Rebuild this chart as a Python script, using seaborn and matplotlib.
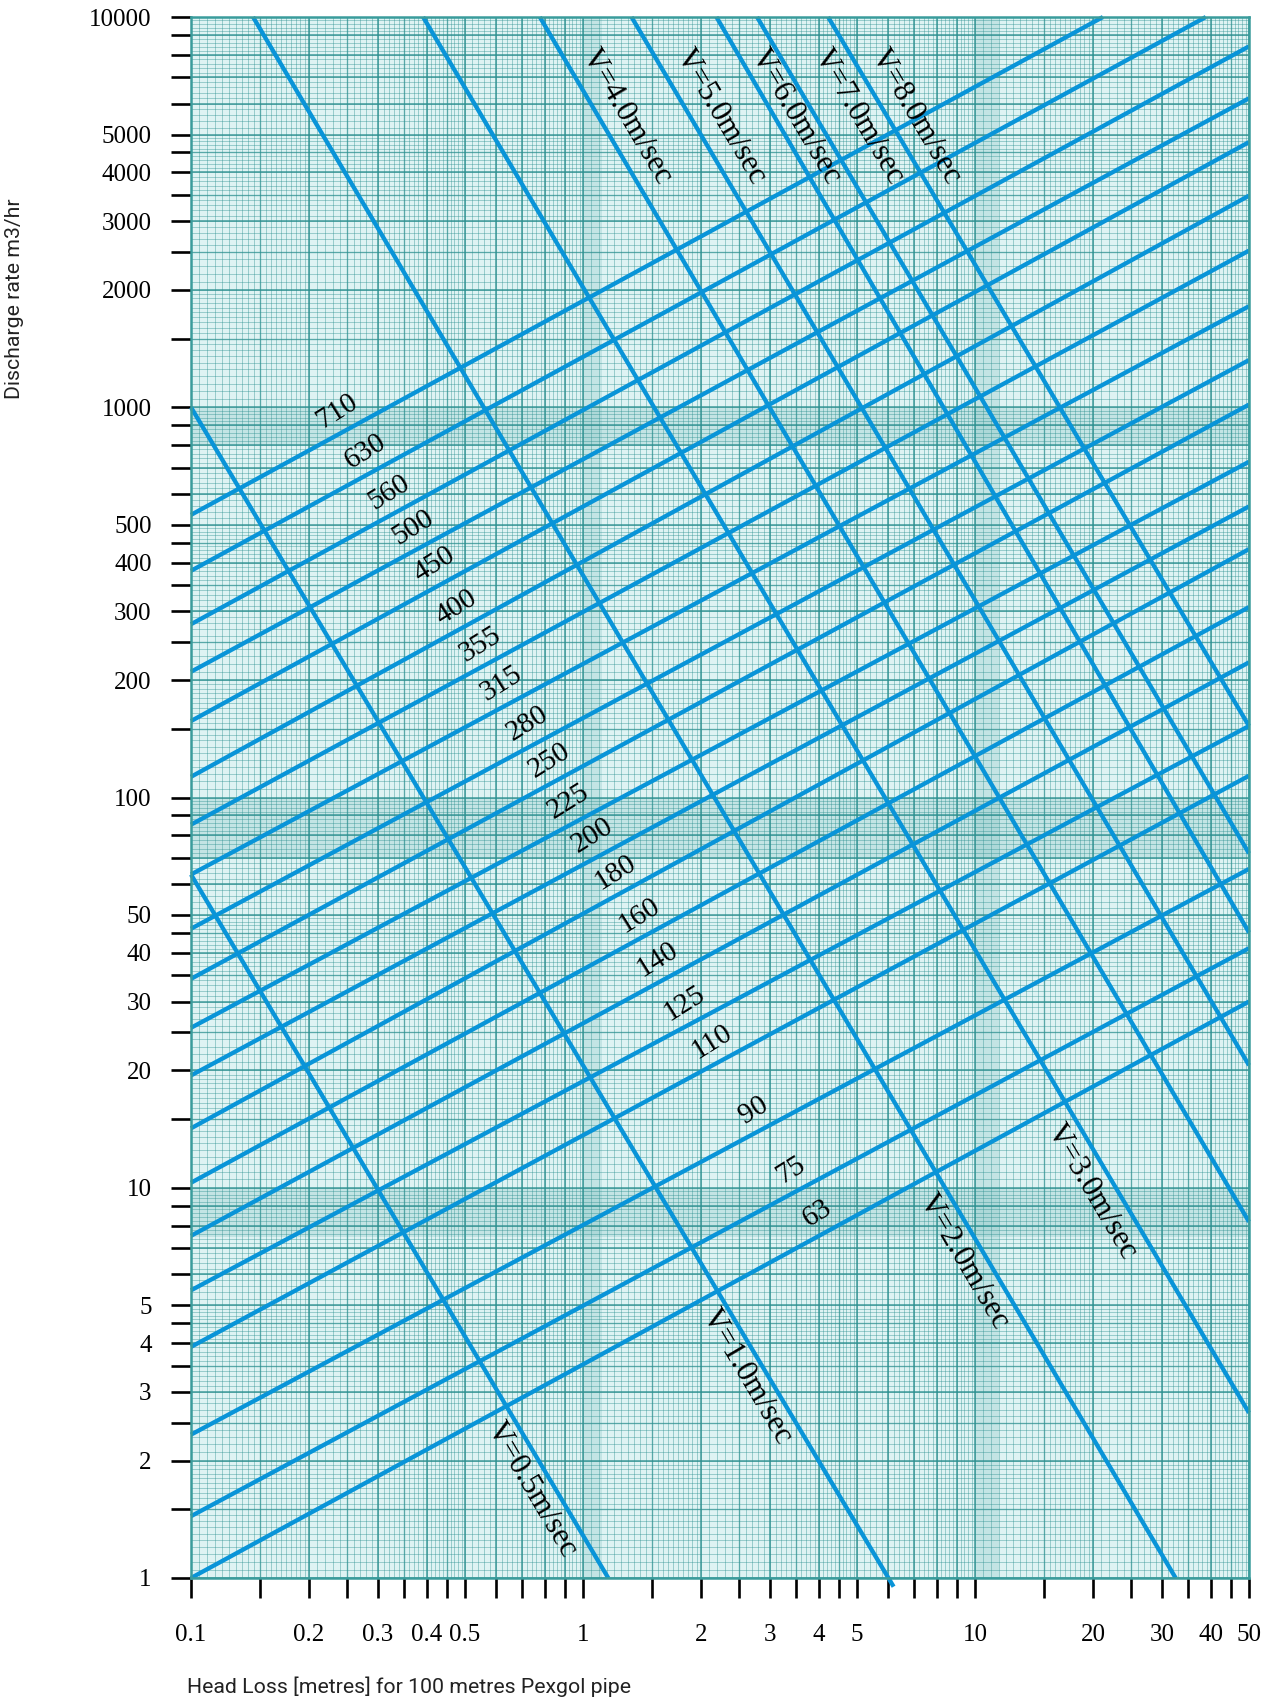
import numpy as np
import pandas as pd
import matplotlib
matplotlib.use('Agg')
import matplotlib.pyplot as plt
import seaborn as sns
from matplotlib.ticker import FixedLocator, FixedFormatter, NullFormatter

# pipe lines (outer diameter, mm): discharge at 0.1 m head loss and at the far end
pipe_sizes = [63, 75, 90, 110, 125, 140, 160, 180, 200, 225,
              250, 280, 315, 355, 400, 450, 500, 560, 630, 710]
pipe_q_start = [1.0, 1.44, 2.33, 3.91, 5.46, 7.53, 10.3, 14.2, 19.4, 25.7,
                34.3, 46.1, 63.5, 85.2, 113, 157, 210, 278, 381, 530]
pipe_x_end = [50] * 18 + [38.8, 21.2]
pipe_q_end = [30.0, 41.1, 65.6, 113.7, 152.5, 222, 307.6, 433, 557, 725,
              1016, 1321, 1815, 2520, 3485, 4780, 6190, 8410, 10000, 10000]
pipe_label_x = [3.95, 3.39, 2.73, 2.13, 1.81, 1.55, 1.39, 1.21, 1.06, 0.921,
                0.824, 0.724, 0.621, 0.546, 0.474, 0.417, 0.368, 0.320, 0.279, 0.235]

# velocity lines
vel_labels = ['V=0.5m/sec', 'V=1.0m/sec', 'V=2.0m/sec', 'V=3.0m/sec', 'V=4.0m/sec',
              'V=5.0m/sec', 'V=6.0m/sec', 'V=7.0m/sec', 'V=8.0m/sec']
vel_x_start = [0.1, 0.1, 0.144, 0.391, 0.776, 1.33, 2.19, 2.78, 4.22]
vel_q_start = [63.5, 1000, 10000, 10000, 10000, 10000, 10000, 10000, 10000]
vel_x_end = [1.16, 6.2, 32.5, 50, 50, 50, 50, 50, 50]
vel_q_end = [1, 0.95, 1, 2.65, 8.18, 20.6, 45.1, 71.9, 152.5]
vel_label_x = [0.741, 2.62, 9.37, 19.8, 1.29, 2.24, 3.49, 5.06, 7.06]
vel_label_q = [1.68, 3.27, 6.45, 9.76, 5540, 5540, 5540, 5540, 5540]

x_labelled = [0.1, 0.2, 0.3, 0.4, 0.5, 1, 2, 3, 4, 5, 10, 20, 30, 40, 50]
y_labelled = [1, 2, 3, 4, 5, 10, 20, 30, 40, 50, 100, 200, 300, 400, 500,
              1000, 2000, 3000, 4000, 5000, 10000]
minor_steps = [1.5, 2.5, 3.5, 4.5, 6, 7, 8, 9]

blue = '#0994d8'
teal = '#2b8f8f'
serif = ['Liberation Serif', 'DejaVu Serif']

sns.set_style('white')
plt.rcParams['font.family'] = serif
plt.rcParams['text.color'] = 'black'
plt.rcParams['xtick.color'] = 'black'
plt.rcParams['ytick.color'] = 'black'

rows = []
for s, ql, xr, qr in zip(pipe_sizes, pipe_q_start, pipe_x_end, pipe_q_end):
    rows.append({'line': f'D{s}', 'x': 0.1, 'Q': ql})
    rows.append({'line': f'D{s}', 'x': xr, 'Q': qr})
for v, xs, qs, xe, qe in zip(vel_labels, vel_x_start, vel_q_start, vel_x_end, vel_q_end):
    rows.append({'line': v, 'x': xs, 'Q': qs})
    rows.append({'line': v, 'x': xe, 'Q': qe})
df = pd.DataFrame(rows)

fig = plt.figure(figsize=(12.75, 17.03), dpi=100)
ax = fig.add_axes([0.1498, 0.0734, 0.8298, 0.9166])
ax.set_xscale('log')
ax.set_yscale('log')
ax.set_xlim(0.1, 50)
ax.set_ylim(1, 10000)
ax.set_facecolor('#def3f3')

# graph-paper background
def paper(lo_exp, hi_exp, top):
    fine, mid, major = [], [], []
    for e in range(lo_exp, hi_exp):
        d = 10.0 ** e
        sub = np.r_[np.arange(1, 2, 0.05), np.arange(2, 5, 0.1), np.arange(5, 10, 0.2)]
        fine += list(d * sub)
        mid += list(d * np.array([1.5, 2.5, 3.5, 4.5]))
        major += list(d * np.arange(1, 10))
    keep = lambda a: [v for v in a if v <= top * 1.0001]
    return keep(fine), keep(mid), keep(major)

xf, xm, xM = paper(-1, 2, 50)
yf, ym, yM = paper(0, 4, 10000)
ax.vlines(xf, 1, 10000, color=teal, lw=0.7, alpha=0.4, zorder=0.5)
ax.hlines(yf, 0.1, 50, color=teal, lw=0.7, alpha=0.4, zorder=0.5)
ax.vlines(xm, 1, 10000, color=teal, lw=1.0, alpha=0.58, zorder=0.6)
ax.hlines(ym, 0.1, 50, color=teal, lw=1.0, alpha=0.58, zorder=0.6)
ax.vlines(xM, 1, 10000, color=teal, lw=1.3, alpha=0.75, zorder=0.7)
ax.hlines(yM, 0.1, 50, color=teal, lw=1.3, alpha=0.75, zorder=0.7)
for lo, hi in [(800, 1000), (70, 100), (7.5, 10)]:
    ax.axhspan(lo, hi, color='#58acac', alpha=0.2, lw=0, zorder=0.4)
for lo, hi in [(1.0, 1.12), (10, 11.5)]:
    ax.axvspan(lo, hi, color='#58acac', alpha=0.2, lw=0, zorder=0.4)

sns.lineplot(data=df, x='x', y='Q', units='line', estimator=None, sort=False,
             color=blue, lw=3.1, ax=ax, zorder=2)
for ln in ax.lines:
    ln.set_solid_capstyle('butt')
    ln.set_clip_on(False)
ax.set_xlabel('')
ax.set_ylabel('')

# pipe size labels sit just above their lines
for s, ql, xr, qr, lx in zip(pipe_sizes, pipe_q_start, pipe_x_end, pipe_q_end, pipe_label_x):
    slope = np.log10(qr / ql) / np.log10(xr / 0.1)
    ly = ql * (lx / 0.1) ** slope
    ax.annotate(str(s), (lx, ly), xytext=(0, 17), textcoords='offset points',
                ha='center', va='center', rotation=32, rotation_mode='anchor',
                fontsize=21, family=serif, color='black', zorder=3)

for v, lx, lq in zip(vel_labels, vel_label_x, vel_label_q):
    ax.text(lx, lq, v, ha='center', va='center', rotation=-59.5,
            rotation_mode='anchor', fontsize=22.5, family=serif, color='black', zorder=3)

# ticks
xminor = [d * m for d in (0.1, 1, 10) for m in minor_steps if d * m < 50] + [15, 25, 35, 45]
xminor = sorted(set(round(v, 4) for v in xminor if v not in x_labelled))
yminor = [d * m for d in (1, 10, 100, 1000) for m in minor_steps]
ax.xaxis.set_major_locator(FixedLocator(x_labelled))
ax.xaxis.set_major_formatter(FixedFormatter([f'{v:g}' for v in x_labelled]))
ax.xaxis.set_minor_locator(FixedLocator(xminor))
ax.xaxis.set_minor_formatter(NullFormatter())
ax.yaxis.set_major_locator(FixedLocator(y_labelled))
ax.yaxis.set_major_formatter(FixedFormatter([f'{v:g}' for v in y_labelled]))
ax.yaxis.set_minor_locator(FixedLocator(yminor))
ax.yaxis.set_minor_formatter(NullFormatter())
ax.tick_params(which='both', direction='out', length=14.4, width=1.9, color='black',
               labelcolor='black', bottom=True, left=True)
ax.tick_params(axis='y', labelsize=18, pad=14)
ax.tick_params(axis='x', labelsize=18, pad=19)
for lab in ax.get_xticklabels() + ax.get_yticklabels():
    lab.set_family(serif)

for sp in ax.spines.values():
    sp.set_color('#3a9c9c')
    sp.set_linewidth(1.8)
    sp.set_zorder(4)

fig.text(15 / 1275, 1 - 299 / 1703, 'Discharge rate m3/hr', rotation=90,
         ha='center', va='center', fontsize=15.3, color='#222222',
         family=['Roboto', 'DejaVu Sans'])
fig.text(187 / 1275, 1 - 1687 / 1703, 'Head Loss [metres] for 100 metres Pexgol pipe',
         ha='left', va='center', fontsize=15.3, color='#222222',
         family=['Roboto', 'DejaVu Sans'])

fig.savefig('out.png', dpi=100)
